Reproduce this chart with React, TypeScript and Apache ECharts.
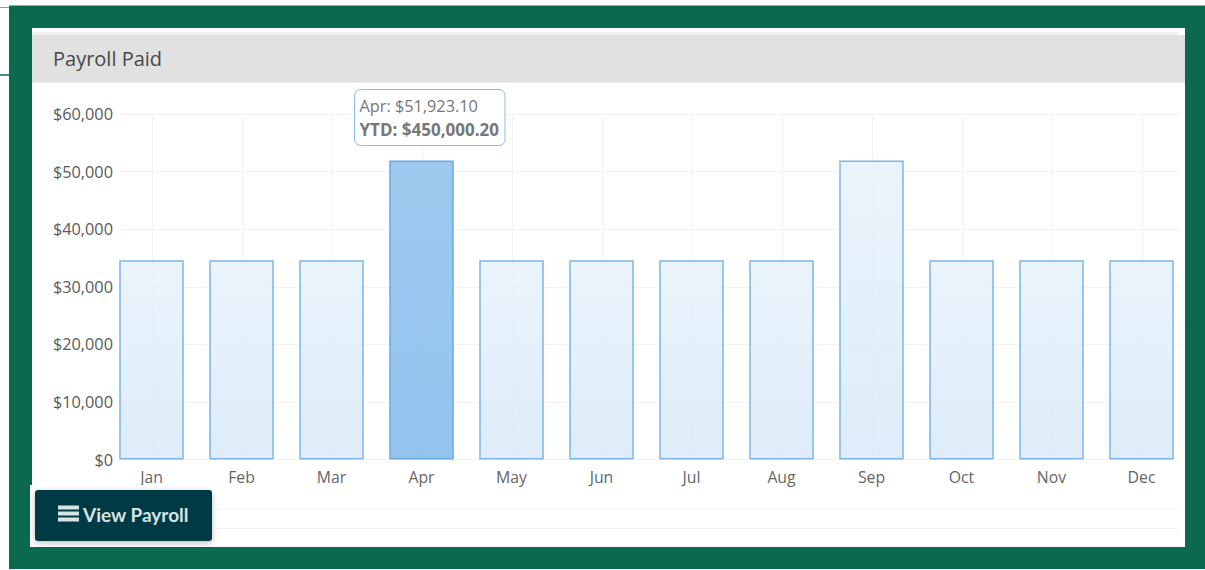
import React, { useEffect, useRef } from "react";
import * as echarts from "echarts";

const title = "Payroll Paid";
const categories = ["Jan", "Feb", "Mar", "Apr", "May", "Jun", "Jul", "Aug", "Sep", "Oct", "Nov", "Dec"];
const payroll = [34615.4, 34615.4, 34615.4, 51923.1, 34615.4, 34615.4, 34615.4, 34615.4, 51923.1, 34615.4, 34615.4, 34615.4];
const highlighted = "Apr";
const tooltipLines = ["Apr: $51,923.10", "YTD: $450,000.20"];
const buttonLabel = "View Payroll";

const FONT = "'Open Sans', 'Noto Sans', sans-serif";
const grad = (a: string, b: string) => new echarts.graphic.LinearGradient(0, 0, 0, 1, [
  { offset: 0, color: a },
  { offset: 1, color: b },
]);

export default function App() {
  const ref = useRef<HTMLDivElement>(null);
  useEffect(() => {
    const chart = echarts.init(ref.current!, undefined, { renderer: "svg" });
    const top = 114;
    const height = 345.5;
    const split = { show: true, lineStyle: { color: "#f3f3f3", width: 1 } };
    chart.setOption({
      animation: false,
      backgroundColor: "#ffffff",
      grid: [
        { left: 120, width: 1059, top, height },
        { left: 106.5, width: 1080, top, height },
        { left: 152, width: 990, top, height },
      ],
      xAxis: [
        { gridIndex: 0, type: "category", data: categories, show: false },
        {
          gridIndex: 1, type: "category", data: categories,
          axisLine: { show: false }, axisTick: { show: false }, splitLine: { show: false },
          axisLabel: { color: "#666666", fontSize: 15.8, fontFamily: FONT, margin: 9 },
        },
        {
          gridIndex: 2, type: "category", data: categories, boundaryGap: false,
          axisLine: { show: false }, axisTick: { show: false }, axisLabel: { show: false },
          splitLine: split,
        },
      ],
      yAxis: [
        {
          gridIndex: 0, type: "value", min: 0, max: 60000, interval: 10000,
          axisLine: { show: false }, axisTick: { show: false }, splitLine: split,
          axisLabel: {
            color: "#5a5a5a", fontSize: 16.3, fontFamily: FONT, margin: 7,
            formatter: (v: number) => "$" + v.toLocaleString("en-US"),
          },
        },
        { gridIndex: 1, type: "value", min: 0, max: 60000, interval: 10000, show: false },
        { gridIndex: 2, type: "value", min: 0, max: 60000, interval: 10000, show: false },
      ],
      series: [
        {
          type: "bar", xAxisIndex: 1, yAxisIndex: 1, barWidth: 64.5,
          data: payroll.map((value, i) => ({
            value,
            itemStyle: categories[i] === highlighted
              ? { color: grad("rgba(152,198,238,0.95)", "rgba(142,193,237,0.95)"), borderColor: "#6ba8df", borderWidth: 1.5 }
              : { color: grad("rgba(230,242,252,0.85)", "rgba(216,233,248,0.85)"), borderColor: "#7fb5e6", borderWidth: 1.5 },
          })),
        },
      ],
      graphic: [
        { type: "rect", z: -10, shape: { x: 9, y: 5.5, width: 1196, height: 563.5 }, style: { fill: "#0b6a4e" } },
        { type: "rect", z: -9, shape: { x: 32, y: 28, width: 1153, height: 519 }, style: { fill: "#ffffff" } },
        { type: "rect", z: -8, shape: { x: 32, y: 32, width: 1147, height: 3 }, style: { fill: "#f1f1f1" } },
        { type: "rect", z: -8, shape: { x: 32, y: 35, width: 1153, height: 47.5 }, style: { fill: "#e1e1e1" } },
        { type: "line", z: -8, shape: { x1: 0, y1: 7.5, x2: 9, y2: 7.5 }, style: { stroke: "#7f9fc6", lineWidth: 1 } },
        { type: "line", z: -8, shape: { x1: 0, y1: 75, x2: 9, y2: 75 }, style: { stroke: "#0b6a4e", lineWidth: 1.5 } },
        { type: "line", z: -8, shape: { x1: 212, y1: 509, x2: 1179, y2: 509 }, style: { stroke: "#f5f5f5", lineWidth: 1 } },
        { type: "line", z: -8, shape: { x1: 212, y1: 528.5, x2: 1179, y2: 528.5 }, style: { stroke: "#f1f1f1", lineWidth: 1 } },
        {
          type: "text", z: 20, x: 53, y: 58,
          style: { text: title, fill: "#484848", fontSize: 20, fontFamily: FONT, verticalAlign: "middle" },
        },
        // Tooltip callout
        {
          type: "rect", z: 20, shape: { x: 354.5, y: 89.5, width: 150.5, height: 56, r: 6 },
          style: { fill: "#ffffff", stroke: "#88bcec", lineWidth: 1 },
        },
        {
          type: "text", z: 21, x: 359.5, y: 106,
          style: { text: tooltipLines[0], fill: "#777777", fontSize: 16.3, fontFamily: FONT, verticalAlign: "middle" },
        },
        {
          type: "text", z: 21, x: 359.5, y: 129,
          style: { text: tooltipLines[1], fill: "#777777", fontSize: 17, fontWeight: "bold", fontFamily: FONT, verticalAlign: "middle" },
        },
        // Button
        { type: "rect", z: 30, shape: { x: 30, y: 485, width: 187, height: 62 }, style: { fill: "#ffffff" } },
        {
          type: "rect", z: 31, shape: { x: 35, y: 490, width: 177, height: 51, r: 3 },
          style: { fill: "#023a44", shadowBlur: 6, shadowColor: "rgba(0,0,0,0.25)", shadowOffsetY: 2 },
        },
        ...[0, 1, 2].map((i) => ({
          type: "rect", z: 32, shape: { x: 58, y: 505.5 + i * 6, width: 21, height: 4 }, style: { fill: "#d5e3e4" },
        })),
        {
          type: "text", z: 32, x: 83, y: 514.5,
          style: { text: buttonLabel, fill: "#d5e3e4", fontSize: 19, fontWeight: "bold", fontFamily: "Lato, sans-serif", verticalAlign: "middle" },
        },
      ],
    });
    return () => chart.dispose();
  }, []);
  return <div ref={ref} style={{ position: "fixed", left: 0, top: 0, width: 1205, height: 570 }} />;
}
